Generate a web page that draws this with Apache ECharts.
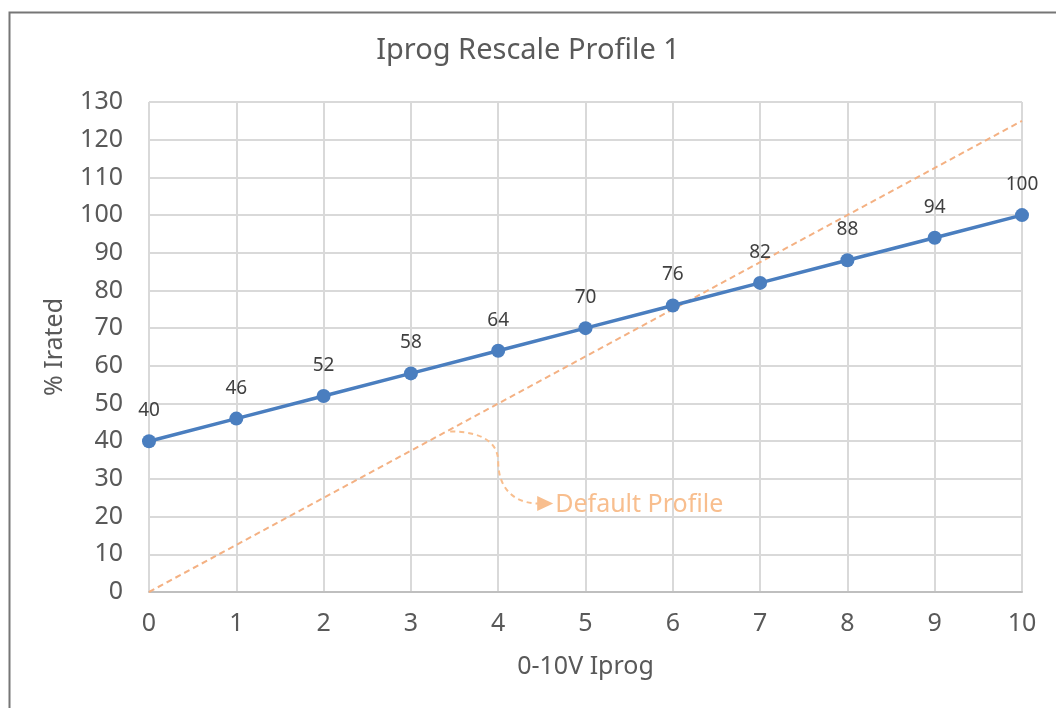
<!DOCTYPE html>
<html><head><meta charset="utf-8">
<script src="https://cdn.jsdelivr.net/npm/echarts@6/dist/echarts.min.js"></script>
<style>html,body{margin:0;padding:0;background:#fff;}#c{width:1056px;height:708px;}</style>
</head><body><div id="c"></div>
<script>
const voltage = [0,1,2,3,4,5,6,7,8,9,10];
const irated = [40,46,52,58,64,70,76,82,88,94,100];
const defaultProfile = [[0,0],[10,125]];
const FONT = '"Noto Sans", "DejaVu Sans", sans-serif';

const chart = echarts.init(document.getElementById('c'), null, {renderer:'canvas'});
const option = {
  animation:false,
  backgroundColor:'#fff',
  textStyle:{fontFamily:FONT},
  title:{text:'Iprog Rescale Profile 1', left:'center', top:31,
    textStyle:{fontFamily:FONT, fontSize:29, fontWeight:'normal', color:'#595959'}},
  grid:{left:149, right:34, top:102, bottom:116},
  xAxis:{type:'value', min:0, max:10, interval:1,
    name:'0-10V Iprog', nameLocation:'middle', nameGap:62,
    nameTextStyle:{fontFamily:FONT, fontSize:25, color:'#595959'},
    axisLine:{show:true, lineStyle:{color:'#BFBFBF', width:2}},
    axisTick:{show:false},
    axisLabel:{fontFamily:FONT, fontSize:25, color:'#595959', margin:19},
    splitLine:{show:true, lineStyle:{color:'#D9D9D9', width:2}}},
  yAxis:{type:'value', min:0, max:130, interval:10,
    name:'% Irated', nameLocation:'middle', nameGap:82, nameRotate:90,
    nameTextStyle:{fontFamily:FONT, fontSize:25, color:'#595959'},
    axisLine:{show:false}, axisTick:{show:false},
    axisLabel:{fontFamily:FONT, fontSize:25, color:'#595959', margin:26},
    splitLine:{show:true, lineStyle:{color:'#D9D9D9', width:2}}},
  series:[
    {type:'line', data:defaultProfile, symbol:'none', z:3,
      lineStyle:{color:'#F4B183', width:2, type:[6,4]}},
    {type:'line', data:voltage.map((v,i)=>[v,irated[i]]), symbol:'circle', symbolSize:14, z:4,
      itemStyle:{color:'#4A7EBF'}, lineStyle:{color:'#4A7EBF', width:3.5},
      label:{show:true, position:'top', distance:14, fontFamily:FONT, fontSize:19, color:'#404040'}}
  ]
};
chart.setOption(option);

const a = chart.convertToPixel({gridIndex:0}, [3.45, 3.45*12.5]);
const ax = a[0], ay = a[1];
const col = '#F8BE8E';
chart.setOption({graphic:[
  {type:'rect', left:7, top:10, shape:{x:0,y:0,width:1100,height:800}, silent:true, z:-10,
    style:{fill:null, stroke:'#767676', lineWidth:2}},
  {type:'bezierCurve', z:50, shape:{x1:ax, y1:ay+2, cpx1:ax+30, cpy1:ay+2, cpx2:ax+48, cpy2:ay+12, x2:ax+48, y2:ay+32},
    style:{stroke:col, lineWidth:2, lineDash:[5,4], fill:null}},
  {type:'bezierCurve', z:50, shape:{x1:ax+48, y1:ay+32, cpx1:ax+48, cpy1:ay+60, cpx2:ax+65, cpy2:ay+74, x2:ax+88, y2:ay+74},
    style:{stroke:col, lineWidth:2, lineDash:[5,4], fill:null}},
  {type:'polygon', z:50, shape:{points:[[ax+87,ay+66.5],[ax+103,ay+74],[ax+87,ay+81.5]]}, style:{fill:col}},
  {type:'text', z:50, x:ax+105, y:ay+75, style:{text:'Default Profile', fontFamily:FONT, fontSize:25, fill:col, verticalAlign:'middle', align:'left'}}
]});
</script></body></html>
